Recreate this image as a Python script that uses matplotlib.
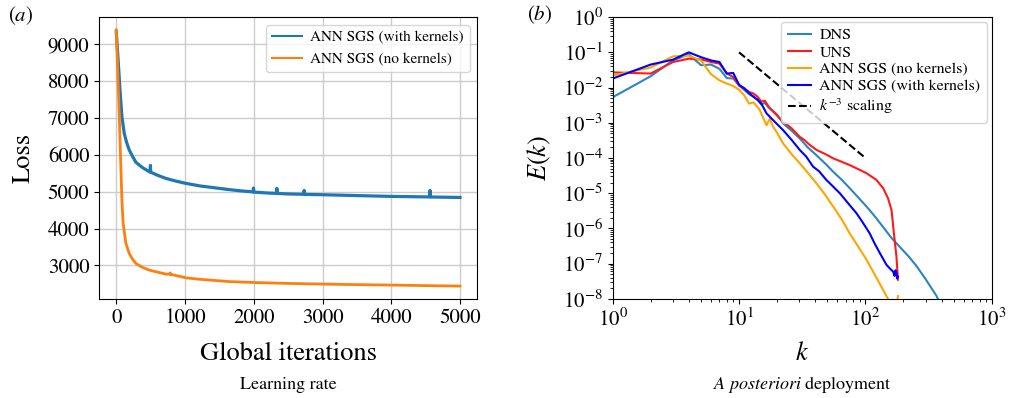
import matplotlib
matplotlib.use("Agg")
import matplotlib.pyplot as plt
from matplotlib.ticker import LogLocator

plt.rcParams['font.family'] = ['STIXGeneral', 'DejaVu Serif']
plt.rcParams['mathtext.fontset'] = 'stix'

# ---------------- (a) training loss ----------------
iters_with = [0, 33, 54, 82, 116, 150, 189, 240, 286, 380, 480, 494, 497, 500, 600, 722, 850,
              1013, 1221, 1352, 1618, 1800, 1990, 1996, 2002, 2200, 2330, 2336, 2342, 2500,
              2727, 2733, 2739, 3013, 3500, 4007, 4500, 4558, 4564, 4570, 5000]
loss_with = [9320, 8378, 7746, 7025, 6572, 6330, 6123, 5940, 5790, 5650, 5536, 5530, 5706, 5525,
             5440, 5355, 5290, 5220, 5150, 5120, 5057, 5020, 4990, 5095, 4985, 4960, 4950, 5086,
             4948, 4935, 4925, 5030, 4922, 4913, 4890, 4868, 4855, 4855, 5030, 4852, 4840]

iters_no = [0, 44, 82, 100, 140, 189, 240, 286, 380, 480, 722, 780, 785, 790, 1013, 1221, 1642,
            1996, 2500, 3013, 3500, 4007, 4500, 5000]
loss_no = [9370, 7025, 4770, 4137, 3595, 3325, 3160, 3054, 2950, 2875, 2767, 2765, 2800, 2762,
           2667, 2625, 2565, 2540, 2515, 2497, 2482, 2470, 2456, 2443]

# ---------------- (b) energy spectra ----------------
k_dns = [1, 2, 3, 4, 5, 6, 7, 8, 9, 10, 11, 12, 13, 14, 15, 16, 17, 18.5, 20, 22.3, 26, 30.2,
         35, 41, 48, 55.5, 65, 75, 88, 102, 120, 138, 160, 187, 220, 254, 300, 366, 400]
E_dns = [5.3e-3, 0.021, 0.059, 0.088, 0.043, 0.045, 0.034, 0.0186, 0.018, 0.0115, 0.0085,
         0.0065, 0.0055, 0.0045, 0.0033, 0.0037, 0.0028, 0.0022, 0.0017, 9.6e-4, 6e-4, 3.6e-4,
         2e-4, 1.2e-4, 7e-5, 4.1e-5, 2.4e-5, 1.4e-5, 7.5e-6, 4.2e-6, 2.1e-6, 1.1e-6, 5.5e-7,
         3e-7, 1.6e-7, 8.5e-8, 3.6e-8, 1.2e-8, 6e-9]

k_uns = [1, 2, 3, 4, 5, 6, 7, 8, 9, 10, 11, 12, 13, 14, 15, 16, 17.5, 20, 22.3, 26, 30.2, 33,
         36, 41, 48, 55.5, 65, 75, 88, 102, 122, 138, 151, 161, 168, 176, 181]
E_uns = [0.027, 0.025, 0.053, 0.066, 0.063, 0.053, 0.048, 0.025, 0.02, 0.0115, 0.0095, 0.0075,
         0.0068, 0.0055, 0.004, 0.0042, 2.6e-3, 1.6e-3, 1.07e-3, 7e-4, 4e-4, 3.2e-4, 2.4e-4,
         1.7e-4, 1.3e-4, 9.8e-5, 7.8e-5, 6.3e-5, 4.8e-5, 3.7e-5, 2.4e-5, 1.4e-5, 7.2e-6,
         3.3e-6, 7.3e-7, 1.6e-7, 3.5e-8]

k_nok = [1, 2, 3, 4, 5, 6, 7, 8, 9, 10, 11, 12, 13, 14, 14.6, 15.5, 16.5, 17.5, 18.5, 19.8,
         22.3, 26, 30.2, 35, 41, 48, 55.5, 65, 75, 88, 102, 120, 138, 151, 160, 175, 181]
E_nok = [0.022, 0.037, 0.077, 0.08, 0.059, 0.024, 0.016, 0.013, 0.011, 0.0087, 0.006, 0.0035,
         0.0038, 0.0028, 2.3e-3, 1.4e-3, 8.5e-4, 1.3e-3, 8e-4, 5.5e-4, 2.6e-4, 1.3e-4, 7.1e-5,
         3.8e-5, 1.9e-5, 9e-6, 4.2e-6, 1.8e-6, 7.3e-7, 3e-7, 1.3e-7, 4.5e-8, 1.8e-8, 1e-8,
         5e-9, 6e-9, 1.2e-8]

k_wk = [1, 2, 3, 4, 5, 6, 7, 8, 9, 10, 11, 12, 13, 14, 15, 16.5, 19, 22.3, 26, 30.2, 34, 38.5,
        43, 49, 55, 62.7, 72, 85, 95, 108, 118, 130, 147, 158, 166, 170, 173, 176, 178, 181]
E_wk = [0.018, 0.045, 0.062, 0.10, 0.073, 0.059, 0.053, 0.025, 0.026, 0.012, 0.0095, 0.007,
        0.0055, 0.0045, 0.0035, 1.85e-3, 1.1e-3, 6.2e-4, 3.3e-4, 1.7e-4, 1.1e-4, 5.7e-5, 4.2e-5,
        2.4e-5, 1.6e-5, 1e-5, 5.5e-6, 2.7e-6, 1.5e-6, 7.3e-7, 3.8e-7, 2e-7, 9.2e-8, 7e-8,
        5.9e-8, 4.5e-8, 6.5e-8, 5.3e-8, 3.8e-8, 4.3e-8]

k_ref = [10, 100]
E_ref = [0.1, 1e-4]

fig = plt.figure(figsize=(10.11, 3.98), dpi=100)

ax1 = fig.add_axes([0.098, 0.249, 0.374, 0.708])
ax1.plot(iters_with, loss_with, color='#1f77b4', lw=2.3, label='ANN SGS (with kernels)')
ax1.plot(iters_no, loss_no, color='#ff7f0e', lw=2.0, label='ANN SGS (no kernels)')
ax1.grid(True, color='#cccccc', lw=1.0)
ax1.set_xticks([0, 1000, 2000, 3000, 4000, 5000])
ax1.set_yticks([3000, 4000, 5000, 6000, 7000, 8000, 9000])
ax1.tick_params(labelsize=15)
ax1.set_xlabel('Global iterations', fontsize=19, labelpad=10)
ax1.set_ylabel('Loss', fontsize=19, labelpad=9)
leg1 = ax1.legend(loc='upper right', fontsize=11, handletextpad=0.5)
leg1.get_frame().set_edgecolor('#cccccc')
for h in leg1.get_lines():
    h.set_linewidth(1.5)

ax2 = fig.add_axes([0.606, 0.249, 0.375, 0.708])
ax2.loglog(k_dns, E_dns, color='#2a86bf', lw=1.5, label='DNS')
ax2.loglog(k_uns, E_uns, color='#ff1a1a', lw=1.5, label='UNS')
ax2.loglog(k_nok, E_nok, color='orange', lw=1.5, label='ANN SGS (no kernels)')
ax2.loglog(k_wk, E_wk, color='blue', lw=1.5, label='ANN SGS (with kernels)')
ax2.loglog(k_ref, E_ref, color='black', ls='--', lw=1.5, label='$k^{-3}$ scaling')
ax2.set_xlim(1, 1000)
ax2.set_ylim(1e-8, 1)
ax2.yaxis.set_major_locator(LogLocator(base=10, numticks=20))
ax2.yaxis.set_minor_locator(LogLocator(base=10, subs=[2, 3, 4, 5, 6, 7, 8, 9], numticks=20))
ax2.yaxis.set_minor_formatter(plt.NullFormatter())
ax2.tick_params(labelsize=15)
ax2.set_xlabel('$k$', fontsize=19, labelpad=8)
ax2.set_ylabel('$E(k)$', fontsize=19, labelpad=7)
leg2 = ax2.legend(loc='upper right', fontsize=11.5, labelspacing=0.18, handlelength=1.5,
                  handletextpad=0.5, borderaxespad=0.3)
leg2.get_frame().set_edgecolor('#cccccc')

fig.text(0.008, 0.96, '$(a)$', fontsize=15, ha='left', va='center')
fig.text(0.521, 0.962, '$(b)$', fontsize=15, ha='left', va='center')
fig.text(0.285, 0.033, 'Learning rate', fontsize=13, ha='center', va='center')
fig.text(0.794, 0.033, r'$\mathit{A\ posteriori}$ deployment', fontsize=13, ha='center', va='center')

fig.savefig('out.png', dpi=100)
